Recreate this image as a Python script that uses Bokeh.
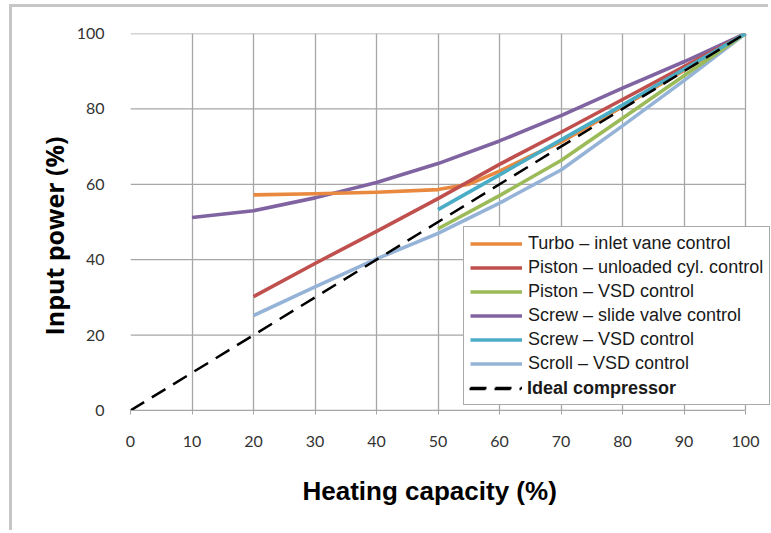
from bokeh.plotting import figure
from bokeh.models import Legend, LegendItem, FixedTicker, Range1d, Title
from bokeh.embed import file_html
from bokeh.resources import INLINE

# ---- data ----
turbo_x = [20, 30, 40, 50, 55, 60, 65, 70, 80, 90, 100]
turbo_y = [57.2, 57.5, 57.9, 58.6, 60.0, 63.5, 67.5, 71.2, 80.6, 90.2, 100]

piston_unl_x = [20, 30, 40, 50, 60, 70, 80, 90, 100]
piston_unl_y = [30.2, 39.0, 47.5, 56.2, 65.3, 73.8, 82.5, 91.2, 100]

piston_vsd_x = [50, 60, 70, 80, 90, 100]
piston_vsd_y = [48.2, 57.0, 66.3, 77.5, 88.8, 100]

screw_slide_x = [10, 20, 30, 40, 50, 60, 70, 80, 90, 100]
screw_slide_y = [51.2, 53.0, 56.4, 60.5, 65.5, 71.5, 78.2, 85.5, 92.5, 100]

screw_vsd_x = [50, 60, 70, 80, 90, 100]
screw_vsd_y = [53.3, 62.5, 71.8, 81.0, 90.5, 100]

scroll_vsd_x = [20, 30, 40, 50, 60, 70, 80, 90, 100]
scroll_vsd_y = [25.2, 32.8, 40.2, 47.0, 55.0, 63.8, 75.5, 87.5, 100]

ideal_x = [0, 100]
ideal_y = [0, 100]

labels = ["Turbo \u2013 inlet vane control",
          "Piston \u2013 unloaded cyl. control",
          "Piston \u2013 VSD control",
          "Screw \u2013 slide valve control",
          "Screw \u2013 VSD control",
          "Scroll \u2013 VSD control",
          "Ideal compressor"]
colors = ["#E8893F", "#C0504D", "#9BBB59", "#8064A2", "#4BACC6", "#95B3D7"]

x_ticks = list(range(0, 101, 10))
y_ticks = list(range(0, 101, 20))

x_title = "Heating capacity (%)"
y_title = "Input power (%)"

# layout: the plot area runs to the window edge so that the legend is not cut;
# the data area 0..100 ends at 745 px, the frame at 771 px
FRAME_L, DATA_R, FRAME_R = 130, 745, 771
x_end = x_ticks[-1] * (FRAME_R - FRAME_L) / (DATA_R - FRAME_L)

# ---- figure ----
p = figure(width=759, height=526, x_range=Range1d(0, x_end), y_range=Range1d(0, 100),
           output_backend="svg", toolbar_location=None,
           min_border_left=118, min_border_right=0, min_border_top=26, min_border_bottom=123)
p.margin = (7, 0, 0, 12)
p.styles = {"box-shadow": "-3px -3px 0 0 #c6c6c6"}
p.background_fill_color = "white"
p.border_fill_color = "white"
p.outline_line_color = None

p.xaxis.ticker = FixedTicker(ticks=x_ticks)
p.yaxis.ticker = FixedTicker(ticks=y_ticks)
p.xgrid.ticker = FixedTicker(ticks=x_ticks)
p.xgrid.grid_line_color = "#a6a6a6"
p.xgrid.grid_line_width = 1.3
p.ygrid.visible = False
# horizontal grid lines limited to the 0..100 data span
p.segment(x0=[x_ticks[0]] * len(y_ticks), x1=[x_ticks[-1]] * len(y_ticks),
          y0=y_ticks, y1=y_ticks, line_color="#a6a6a6", line_width=1.3)

for ax in (p.xaxis, p.yaxis):
    ax.major_label_text_font = "Lato"
    ax.major_label_text_font_size = "16px"
    ax.major_label_text_color = "#333333"
    ax.minor_tick_line_color = None

p.xaxis.bounds = (x_ticks[0], x_ticks[-1])
p.xaxis.axis_line_color = "#a6a6a6"
p.xaxis.major_tick_line_color = "#a6a6a6"
p.xaxis.major_tick_out = 4
p.xaxis.major_tick_in = 0
p.xaxis.major_label_standoff = 21

p.yaxis.axis_line_color = None
p.yaxis.major_tick_line_color = None
p.yaxis.major_label_standoff = 20

# axis titles (as titles, so they can be placed off-centre like the reference)
p.add_layout(Title(text=x_title, align="left", offset=172, standoff=48,
                   text_font="Liberation Sans", text_font_style="bold",
                   text_font_size="26px", text_color="black"), "below")
p.add_layout(Title(text=y_title, align="left", offset=75, standoff=6,
                   text_font="Open Sans", text_font_style="bold",
                   text_font_size="25px", text_color="black"), "left")

# ---- lines ----
series = [(turbo_x, turbo_y), (piston_unl_x, piston_unl_y), (piston_vsd_x, piston_vsd_y),
          (screw_slide_x, screw_slide_y), (screw_vsd_x, screw_vsd_y), (scroll_vsd_x, scroll_vsd_y)]
draw_order = [3, 0, 1, 5, 2, 4]
renderers = [None] * 6
for i in draw_order:
    xs, ys = series[i]
    renderers[i] = p.line(xs, ys, line_color=colors[i], line_width=3.6, line_join="round")
r_ideal = p.line(ideal_x, ideal_y, line_color="black", line_width=2.5, line_dash="16 9")

# ---- legend (framed box with 7 rows; bold label for the ideal line) ----
common = dict(padding=6, spacing=3, glyph_width=52, glyph_height=21, label_height=21,
              label_standoff=6, label_text_font="Liberation Sans", label_text_font_size="18px",
              label_text_color="#1a1a1a", margin=0)
itemsA = [LegendItem(label=labels[i], renderers=[renderers[i]]) for i in range(6)]
itemsA.append(LegendItem(label=" ", renderers=[r_ideal]))
legA = Legend(items=itemsA, location=(333, 5), background_fill_color="white",
              background_fill_alpha=1, border_line_color="#555555", border_line_width=1,
              **common)
legB = Legend(items=[LegendItem(label=labels[6], renderers=[r_ideal])],
              location=(333, 5), label_text_font_style="bold",
              background_fill_alpha=0, border_line_alpha=0, **common)
p.add_layout(legA)
p.add_layout(legB)

open("out.html", "w").write(file_html(p, INLINE))
